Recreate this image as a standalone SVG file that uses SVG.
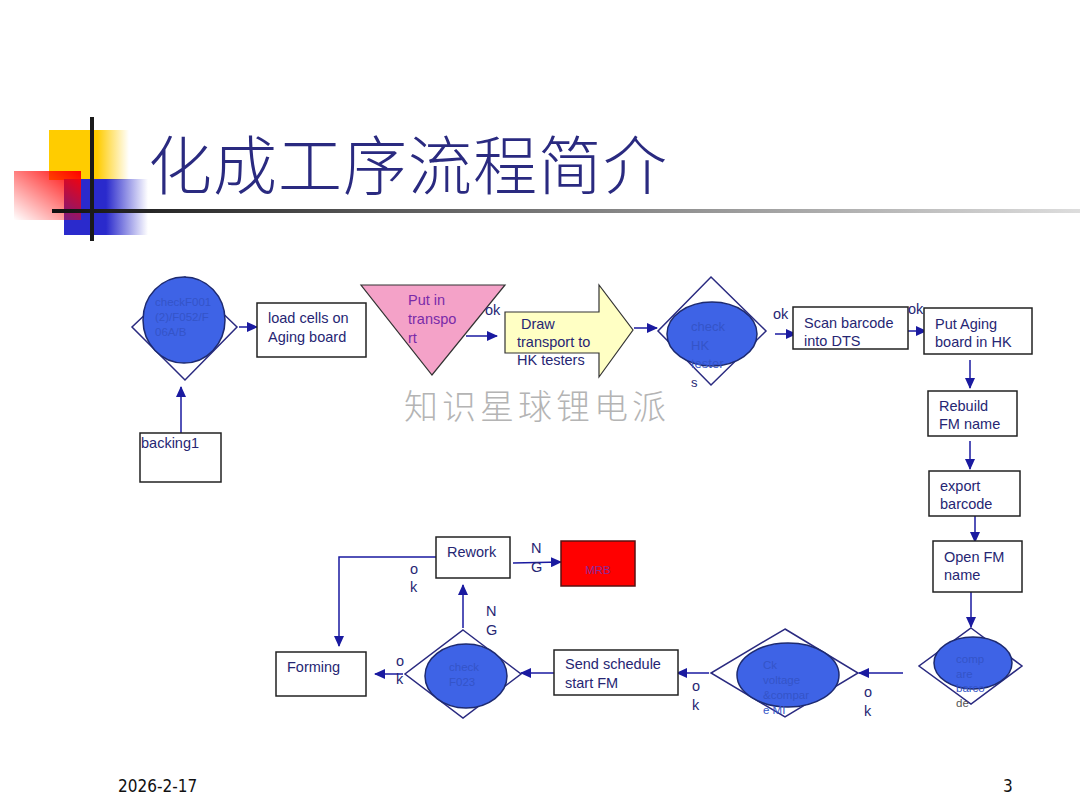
<svg xmlns="http://www.w3.org/2000/svg" width="1080" height="810" viewBox="0 0 1080 810">
<style>
.t{font-family:"Liberation Sans",Arial,sans-serif;font-size:14.5px;fill:#262673}
.s{font-family:"Liberation Sans",Arial,sans-serif;font-size:11.5px;fill:#3454c8}
.box{fill:#fff;stroke:#222;stroke-width:1.5}
.dia{fill:#fff;stroke:#2a2a80;stroke-width:1.5}
.ell{fill:#3e63e6;stroke:#1d2a70;stroke-width:1.5}
.c{fill:none;stroke:#1a1aa0;stroke-width:1.5}
.ca{fill:none;stroke:#1a1aa0;stroke-width:1.5;marker-end:url(#ah)}
</style>
<defs>
<marker id="ah" markerUnits="userSpaceOnUse" markerWidth="12" markerHeight="10" refX="10" refY="5" orient="auto">
<path d="M0,0 L11,5 L0,10 Z" fill="#1a1aa0"/>
</marker>
<linearGradient id="gy" x1="0" y1="0" x2="1" y2="0">
<stop offset="0" stop-color="#ffcc00"/><stop offset="0.6" stop-color="#ffcc00"/><stop offset="1" stop-color="#ffcc00" stop-opacity="0"/>
</linearGradient>
<linearGradient id="gr" x1="1" y1="0" x2="0" y2="1">
<stop offset="0" stop-color="#ff0000"/><stop offset="1" stop-color="#ff0000" stop-opacity="0"/>
</linearGradient>
<linearGradient id="gb" x1="0" y1="0" x2="1" y2="0">
<stop offset="0" stop-color="#2a2acc"/><stop offset="0.5" stop-color="#2a2acc"/><stop offset="1" stop-color="#2a2acc" stop-opacity="0"/>
</linearGradient>
<linearGradient id="gl" x1="0" y1="0" x2="1" y2="0">
<stop offset="0" stop-color="#111"/><stop offset="0.3" stop-color="#555"/><stop offset="1" stop-color="#ddd"/>
</linearGradient>
</defs>
<rect width="1080" height="810" fill="#fff"/>
<g id="title-decor">
<rect x="49" y="130" width="80" height="50" fill="url(#gy)"/>
<rect x="64" y="179" width="84" height="56" fill="url(#gb)"/>
<rect x="14" y="171" width="67" height="49" fill="url(#gr)"/>
<rect x="52" y="209" width="1028" height="4" fill="url(#gl)"/>
<rect x="90" y="117" width="4" height="124" fill="#1a1a1a"/>
</g>
<text x="148" y="189" style="font-family:'Noto Sans CJK SC',sans-serif;font-size:64px;font-weight:300;fill:#2a2a80;letter-spacing:1px">化成工序流程简介</text>
<text x="404" y="419" style="font-family:'Noto Sans CJK SC',sans-serif;font-size:34px;font-weight:300;fill:#b4b4b4;letter-spacing:4px">知识星球锂电派</text>

<g id="connectors">
<line class="ca" x1="181" y1="433" x2="181" y2="387"/>
<line class="ca" x1="239" y1="327" x2="257" y2="327"/>
<line class="ca" x1="466" y1="336" x2="497" y2="336"/>
<line class="ca" x1="634" y1="328" x2="657" y2="328"/>
<line class="ca" x1="775" y1="334" x2="796" y2="334"/>
<line class="ca" x1="908" y1="331" x2="926" y2="331"/>
<line class="ca" x1="970" y1="360" x2="970" y2="388"/>
<line class="ca" x1="970" y1="441" x2="970" y2="469"/>
<line class="ca" x1="975" y1="516" x2="975" y2="542"/>
<line class="ca" x1="971" y1="592" x2="971" y2="627"/>
<line class="ca" x1="903" y1="673" x2="859" y2="673"/>
<line class="ca" x1="709" y1="673" x2="677" y2="673"/>
<line class="ca" x1="554" y1="673" x2="521" y2="673"/>
<line class="ca" x1="403" y1="674" x2="375" y2="674"/>
<line class="ca" x1="463" y1="628" x2="463" y2="585"/>
<line class="ca" x1="513" y1="563" x2="561" y2="562"/>
<polyline class="ca" points="436,557 339,557 339,646"/>
</g>

<g id="checkF001">
<polygon class="dia" points="185,277 237,327 185,380 132,327"/>
<ellipse class="ell" cx="184" cy="320" rx="41" ry="43"/>
<text class="s" x="155" y="306">checkF001</text>
<text class="s" x="155" y="321">(2)/F052/F</text>
<text class="s" x="155" y="336">06A/B</text>
</g>
<g id="backing1">
<rect class="box" x="140" y="433" width="81" height="49"/>
<text class="t" x="141" y="448">backing1</text>
</g>
<g id="load-cells">
<rect class="box" x="257" y="303" width="109" height="54"/>
<text class="t" x="268" y="323">load cells on</text>
<text class="t" x="268" y="342">Aging board</text>
</g>
<g id="put-in-transport">
<polygon points="361,285 505,285 432,375" fill="#f4a2c8" stroke="#333" stroke-width="1.2"/>
<text class="t" x="408" y="305" style="fill:#7a2aa8">Put in</text>
<text class="t" x="408" y="324" style="fill:#7a2aa8">transpo</text>
<text class="t" x="408" y="343" style="fill:#7a2aa8">rt</text>
<text class="t" x="485" y="315">ok</text>
</g>
<g id="draw-transport">
<polygon points="505,312 599,312 599,285 633,330 599,377 599,353 505,353" fill="#ffffc4" stroke="#333" stroke-width="1.2"/>
<text class="t" x="521" y="329">Draw</text>
<text class="t" x="517" y="347">transport to</text>
<text class="t" x="517" y="365">HK testers</text>
</g>
<g id="check-hk">
<polygon class="dia" points="711,277 766,331 711,385 658,331"/>
<ellipse class="ell" cx="712" cy="334" rx="45" ry="32"/>
<text class="s" x="691" y="331" style="font-size:13px">check</text>
<text class="s" x="691" y="350" style="font-size:13px">HK</text>
<text class="s" x="691" y="368" style="font-size:13px">tester</text>
<text class="t" x="691" y="387" style="font-size:13px">s</text>
<text class="t" x="773" y="319">ok</text>
</g>
<g id="scan-barcode">
<rect class="box" x="793" y="307" width="115" height="42"/>
<text class="t" x="804" y="328">Scan barcode</text>
<text class="t" x="804" y="346">into DTS</text>
<text class="t" x="908" y="314">ok</text>
</g>
<g id="put-aging">
<rect class="box" x="924" y="308" width="108" height="46"/>
<text class="t" x="935" y="329">Put Aging</text>
<text class="t" x="935" y="347">board in HK</text>
</g>
<g id="rebuild">
<rect class="box" x="928" y="391" width="89" height="45"/>
<text class="t" x="939" y="411">Rebuild</text>
<text class="t" x="939" y="429">FM name</text>
</g>
<g id="export">
<rect class="box" x="929" y="471" width="91" height="45"/>
<text class="t" x="940" y="491">export</text>
<text class="t" x="940" y="509">barcode</text>
</g>
<g id="open-fm">
<rect class="box" x="933" y="541" width="89" height="51"/>
<text class="t" x="944" y="562">Open FM</text>
<text class="t" x="944" y="580">name</text>
</g>
<g id="compare-barcode">
<polygon class="dia" points="971,628 1022,666 971,704 919,666"/>
<ellipse class="ell" cx="973" cy="663" rx="39" ry="26"/>
<text class="s" x="956" y="663">comp</text>
<text class="s" x="956" y="678">are</text>
<text class="s" x="956" y="692">barco</text>
<text class="s" x="956" y="707" style="fill:#555">de</text>
<text class="t" x="864" y="697">o</text>
<text class="t" x="864" y="716">k</text>
</g>
<g id="ck-voltage">
<polygon class="dia" points="785,629 858,673 785,717 711,673"/>
<ellipse class="ell" cx="788" cy="675" rx="51" ry="32"/>
<text class="s" x="763" y="669">Ck</text>
<text class="s" x="763" y="684">voltage</text>
<text class="s" x="763" y="699">&amp;compar</text>
<text class="s" x="763" y="714">e MI</text>
<text class="t" x="692" y="691">o</text>
<text class="t" x="692" y="710">k</text>
</g>
<g id="send-schedule">
<rect class="box" x="554" y="650" width="124" height="45"/>
<text class="t" x="565" y="669">Send schedule</text>
<text class="t" x="565" y="688">start FM</text>
</g>
<g id="check-F023">
<polygon class="dia" points="463,630 521,674 463,718 405,674"/>
<ellipse class="ell" cx="466" cy="676" rx="41" ry="32"/>
<text class="s" x="449" y="671">check</text>
<text class="s" x="449" y="686">F023</text>
<text class="t" x="396" y="666">o</text>
<text class="t" x="396" y="684">k</text>
<text class="t" x="486" y="616">N</text>
<text class="t" x="486" y="635">G</text>
</g>
<g id="forming">
<rect class="box" x="276" y="652" width="90" height="44"/>
<text class="t" x="287" y="672">Forming</text>
</g>
<g id="rework">
<rect class="box" x="436" y="537" width="74" height="41"/>
<text class="t" x="447" y="557">Rework</text>
<text class="t" x="410" y="574">o</text>
<text class="t" x="410" y="592">k</text>
<text class="t" x="531" y="553">N</text>
<text class="t" x="531" y="572">G</text>
</g>
<g id="MRB">
<rect x="561" y="541" width="74" height="45" fill="#ff0000" stroke="#5a1010" stroke-width="1.5"/>
<text class="s" x="598" y="574" text-anchor="middle" style="fill:#8a2a9a">MRB</text>
</g>
<text x="118" y="792" style="font-family:'DejaVu Sans Condensed','DejaVu Sans',sans-serif;font-size:17px;fill:#111">2026-2-17</text>
<text x="1003" y="792" style="font-family:'DejaVu Sans Condensed','DejaVu Sans',sans-serif;font-size:17px;fill:#111">3</text>
</svg>
